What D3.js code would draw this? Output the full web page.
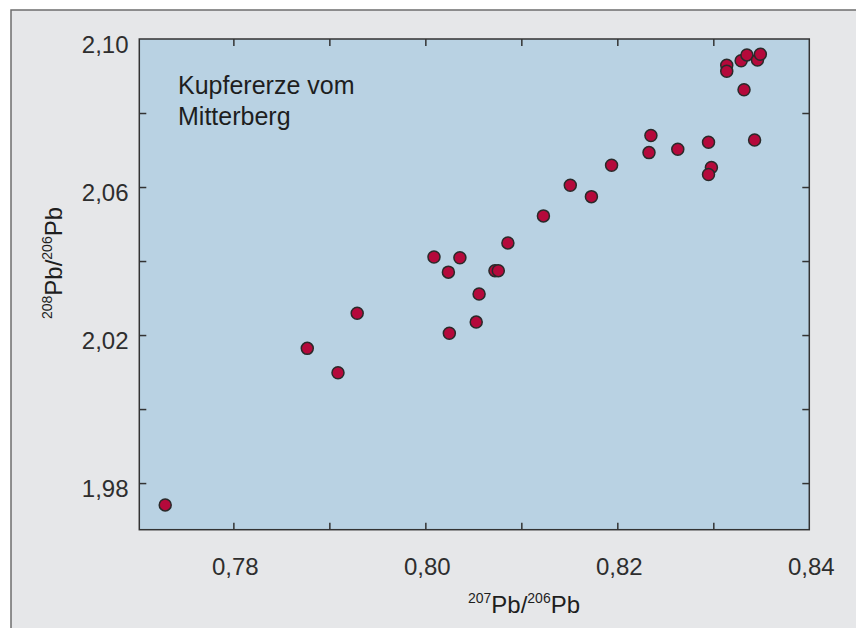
<!DOCTYPE html>
<html>
<head>
<meta charset="utf-8">
<script src="https://cdn.jsdelivr.net/npm/d3@7"></script>
<style>
  html, body { margin: 0; padding: 0; background: #ffffff; }
  svg { display: block; }
  text { font-family: "Liberation Sans", Arial, sans-serif; }
</style>
</head>
<body>
<svg id="chart" width="856" height="628"></svg>
<script>
// ---- Data ----
const pb207_206 = [
  0.7729, 0.7877, 0.7909, 0.7929,
  0.8009, 0.8036, 0.8024, 0.80725, 0.8076, 0.8056, 0.8053, 0.8025, 0.8086, 0.8123,
  0.8151, 0.8173, 0.8194, 0.8233, 0.8235, 0.8263, 0.8295, 0.8298, 0.8295, 0.8343,
  0.8332, 0.8314, 0.8314, 0.8329, 0.8335, 0.8346, 0.8349
];
const pb208_206 = [
  1.9741, 2.0164, 2.0098, 2.0259,
  2.0411, 2.0409, 2.0370, 2.0374, 2.0374, 2.0311, 2.0235, 2.0205, 2.0449, 2.0522,
  2.0605, 2.0574, 2.0659, 2.0693, 2.0739, 2.0702, 2.0721, 2.0653, 2.0634, 2.0727,
  2.0863, 2.0929, 2.0913, 2.0941, 2.0957, 2.0943, 2.0959
];
const xTicks = [0.78, 0.79, 0.80, 0.81, 0.82, 0.83];
const xTickLabels = [0.78, 0.80, 0.82, 0.84];
const yTicks = [1.98, 2.00, 2.02, 2.04, 2.06, 2.08];
const yTickLabels = [1.98, 2.02, 2.06, 2.10];
const annotation = ["Kupfererze vom", "Mitterberg"];

// ---- Layout ----
const W = 856, H = 628;
const plot = { left: 139.3, top: 39, right: 809.3, bottom: 529.7 };

const svg = d3.select("#chart");

// outer panel
svg.append("rect").attr("x", 11).attr("y", 10).attr("width", W - 11).attr("height", H - 10)
  .attr("fill", "#e6e7e9");
svg.append("path").attr("d", `M11,${H} L11,10 L${W},10`)
  .attr("fill", "none").attr("stroke", "#6e6e6e").attr("stroke-width", 1.5);

const x = d3.scaleLinear().domain([0.7702, 0.8400]).range([plot.left, plot.right]);
const y = d3.scaleLinear().domain([1.9674, 2.1000]).range([plot.bottom, plot.top]);

// plot background
svg.append("rect")
  .attr("x", plot.left).attr("y", plot.top)
  .attr("width", plot.right - plot.left).attr("height", plot.bottom - plot.top)
  .attr("fill", "#b9d2e3");

const fmt = d => d3.format(".2f")(d).replace(".", ",");
const tickLen = 7;
const axisColor = "#333";

// bottom axis (inner ticks)
const gB = svg.append("g").attr("transform", `translate(0,${plot.bottom})`)
  .call(d3.axisBottom(x).tickValues(xTicks).tickSize(-tickLen).tickFormat(""));
// top axis (inner ticks)
const gT = svg.append("g").attr("transform", `translate(0,${plot.top})`)
  .call(d3.axisTop(x).tickValues(xTicks).tickSize(-tickLen).tickFormat(""));
// left axis
const gL = svg.append("g").attr("transform", `translate(${plot.left},0)`)
  .call(d3.axisLeft(y).tickValues(yTicks).tickSize(-tickLen).tickFormat(""));
// right axis
const gR = svg.append("g").attr("transform", `translate(${plot.right},0)`)
  .call(d3.axisRight(y).tickValues(yTicks).tickSize(-tickLen).tickFormat(""));

[gB, gT, gL, gR].forEach(g => {
  g.select(".domain").remove();
  g.selectAll(".tick line").attr("stroke", axisColor).attr("stroke-width", 1.5);
});

// frame
svg.append("rect")
  .attr("x", plot.left).attr("y", plot.top)
  .attr("width", plot.right - plot.left).attr("height", plot.bottom - plot.top)
  .attr("fill", "none").attr("stroke", axisColor).attr("stroke-width", 1.5);

// x tick labels
svg.append("g").selectAll("text").data(xTickLabels).join("text")
  .attr("x", d => x(d) + 2).attr("y", 575)
  .attr("text-anchor", "middle")
  .attr("font-size", 24).attr("fill", "#2e2e2e")
  .text(fmt);

// y tick labels
svg.append("g").selectAll("text").data(yTickLabels).join("text")
  .attr("x", 128.5).attr("y", d => y(d) + 14)
  .attr("text-anchor", "end")
  .attr("font-size", 24).attr("fill", "#2e2e2e")
  .text(fmt);

// x axis title
const xt = svg.append("text").attr("x", 524).attr("y", 613)
  .attr("text-anchor", "middle").attr("font-size", 24).attr("fill", "#1e1e1e");
xt.append("tspan").attr("font-size", 14).attr("dy", -10).text("207");
xt.append("tspan").attr("dy", 10).text("Pb/");
xt.append("tspan").attr("font-size", 14).attr("dy", -10).text("206");
xt.append("tspan").attr("dy", 10).text("Pb");

// y axis title
const yt = svg.append("text")
  .attr("transform", "translate(61.5,263) rotate(-90)")
  .attr("text-anchor", "middle").attr("font-size", 24).attr("fill", "#1e1e1e");
yt.append("tspan").attr("font-size", 14).attr("dy", -10).text("208");
yt.append("tspan").attr("dy", 10).text("Pb/");
yt.append("tspan").attr("font-size", 14).attr("dy", -10).text("206");
yt.append("tspan").attr("dy", 10).text("Pb");

// annotation
svg.append("g").selectAll("text").data(annotation).join("text")
  .attr("x", 178).attr("y", (d, i) => 94 + i * 31)
  .attr("font-size", 25).attr("fill", "#1e1e1e")
  .text(d => d);

// points
const pts = pb207_206.map((v, i) => ({ x: v, y: pb208_206[i] }));
svg.append("g").selectAll("circle").data(pts).join("circle")
  .attr("cx", d => x(d.x)).attr("cy", d => y(d.y))
  .attr("r", 6)
  .attr("fill", "#b5093b")
  .attr("stroke", "#2a2a2a").attr("stroke-width", 1.5);
</script>
</body>
</html>
